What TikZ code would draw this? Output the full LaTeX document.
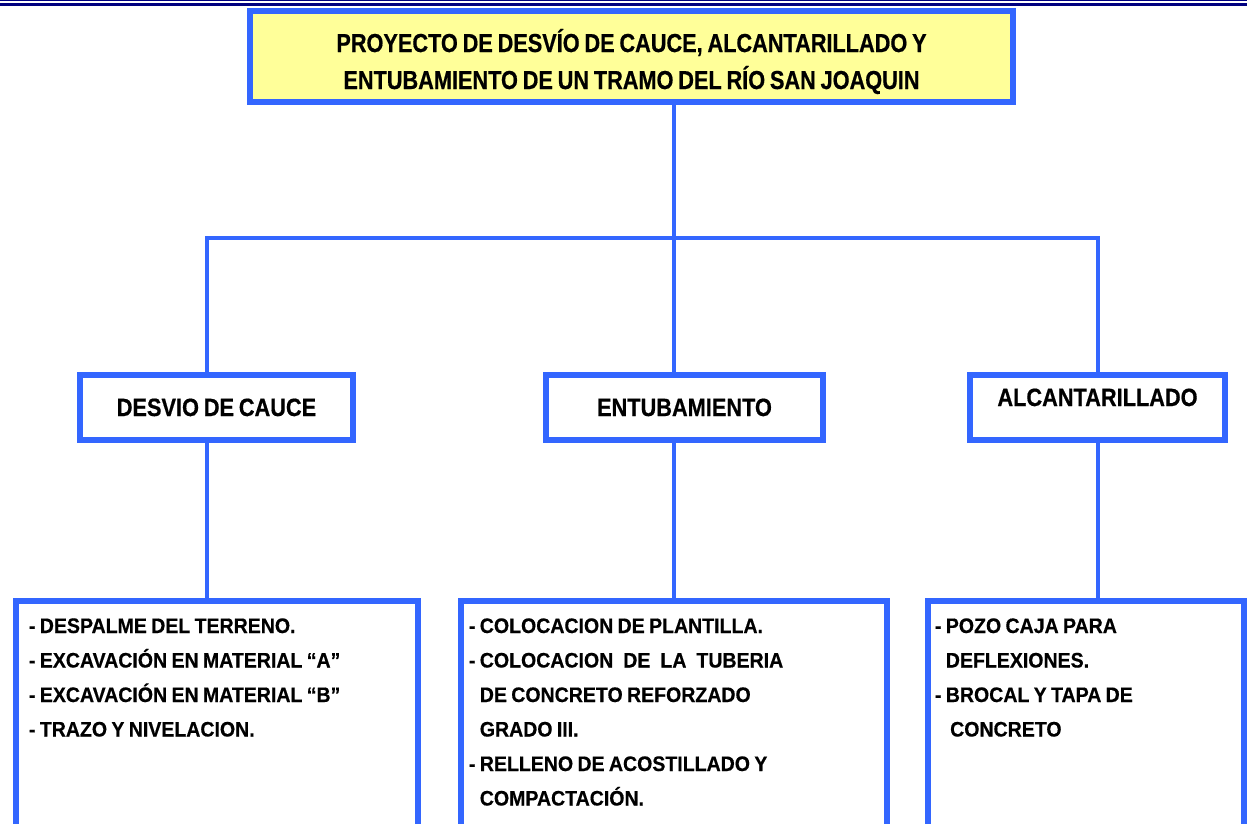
\documentclass[tikz,border=0pt]{standalone}
\usepackage{fontspec}
\setmainfont{Liberation Sans}
\newfontfamily\titlefont{Liberation Sans}[FakeStretch=0.835, FakeBold=0.6, WordSpace=0.8]
\newfontfamily\headfont{Liberation Sans}[FakeStretch=0.87, FakeBold=0.6, WordSpace=0.8]
\newfontfamily\itemfont{Liberation Sans}[FakeStretch=0.93, FakeBold=0.5, WordSpace=0.8]
\definecolor{lineblue}{RGB}{51,102,255}
\definecolor{titleyellow}{RGB}{255,255,153}
\definecolor{rulenavy}{RGB}{0,0,128}

\tikzset{
  frame/.style={draw=lineblue, line width=6bp, outer sep=0pt, inner sep=0pt},
  header/.style={frame, fill=titleyellow, text width=763bp, align=flush center,
    text height=41bp, text depth=50bp,
    font=\titlefont\bfseries\fontsize{26bp}{37bp}\selectfont},
  phase/.style={frame, fill=white, text height=41bp, text depth=24bp,
    font=\headfont\bfseries\fontsize{25bp}{30bp}\selectfont},
  tasks/.style={frame, fill=white, anchor=north west, align=flush left,
    text height=32bp, text depth=220bp,
    font=\itemfont\bfseries\fontsize{21bp}{34.5bp}\selectfont},
  link/.style={draw=lineblue, line width=4bp}
}

\begin{document}
\begin{tikzpicture}[x=1bp,y=-1bp]
\useasboundingbox (0,0) rectangle (1247,824);
\clip (0,0) rectangle (1247,824);

% rule at the top of the page
\draw[rulenavy, line width=1.3bp] (0,0.65) -- (1247,0.65);
\draw[rulenavy, line width=2.7bp] (0,4.35) -- (1247,4.35);

\node[header] (title) at (631.5,56.5) {PROYECTO DE DESVÍO DE CAUCE, ALCANTARILLADO Y\\ENTUBAMIENTO DE UN TRAMO DEL RÍO SAN JOAQUIN};

\node[phase, minimum width=273bp] (desvio) at (216.5,407.5) {DESVIO DE CAUCE};
\node[phase, minimum width=277bp] (entubado) at (684.5,407.5) {ENTUBAMIENTO};
\node[phase, minimum width=255bp, text height=31bp, text depth=34bp] (alcantarillado) at (1097.5,407.5) {ALCANTARILLADO};

\node[tasks, inner xsep=13.5bp, text width=375.5bp] (obrasdesvio) at (15.5,601) {- DESPALME DEL TERRENO.\\
- EXCAVACIÓN EN MATERIAL “A”\\
- EXCAVACIÓN EN MATERIAL “B”\\
- TRAZO Y NIVELACION.};
\node[tasks, inner xsep=8bp, text width=410bp] (obrasentubado) at (461,601) {- COLOCACION DE PLANTILLA.\\
- COLOCACION\hspace{10bp}DE\hspace{10bp}LA\hspace{10bp}TUBERIA\\
\hphantom{-}\ DE CONCRETO REFORZADO\\
\hphantom{-}\ GRADO III.\\
- RELLENO DE ACOSTILLADO Y\\
\hphantom{-}\ COMPACTACIÓN.};
\node[tasks, inner xsep=7bp, text width=302bp] (obrasalcantarillado) at (928,601) {- POZO CAJA PARA\\
\hphantom{-}\ DEFLEXIONES.\\
- BROCAL Y TAPA DE\\
\hphantom{-}\ \ CONCRETO};

% connectors
\coordinate (hubL) at (207,238);
\coordinate (hubM) at (674,238);
\coordinate (hubR) at (1098,238);
\draw[link] (title.south -| hubM) -- (hubM);
\draw[link] (desvio.north -| hubL) -- (hubL) -- (hubR) -- (alcantarillado.north -| hubR);
\draw[link] (hubM) -- (entubado.north -| hubM);
\draw[link] (desvio.south -| hubL) -- (obrasdesvio.north -| hubL);
\draw[link] (entubado.south -| hubM) -- (obrasentubado.north -| hubM);
\draw[link] (alcantarillado.south -| hubR) -- (obrasalcantarillado.north -| hubR);

\end{tikzpicture}
\end{document}
